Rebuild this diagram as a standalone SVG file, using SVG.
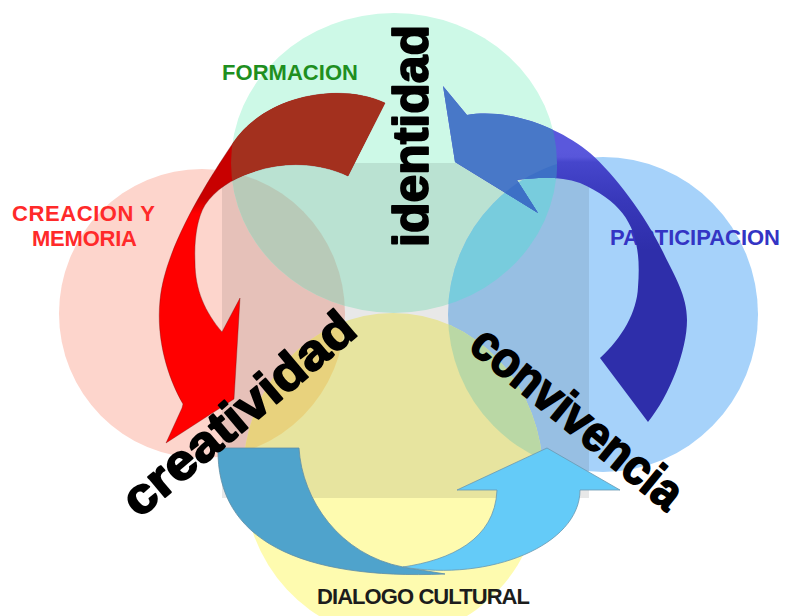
<svg xmlns="http://www.w3.org/2000/svg" xmlns:xlink="http://www.w3.org/1999/xlink" width="785" height="616" viewBox="0 0 785 616">
<style>
.lbl{font-family:"Liberation Sans",Arial,sans-serif;font-weight:bold;font-size:22px;lengthAdjust:spacingAndGlyphs}
.big{font-family:"Liberation Sans",Arial,sans-serif;font-weight:bold;font-size:50px;fill:#000;stroke:#000;stroke-width:1.8px;stroke-linejoin:round}
</style>
<defs>
<clipPath id="cPink"><ellipse cx="202" cy="313.5" rx="143" ry="144.5"/></clipPath>
<clipPath id="cGreen"><ellipse cx="394" cy="163" rx="163" ry="150"/></clipPath>
<clipPath id="cBlue"><ellipse cx="603" cy="314.5" rx="155" ry="157.5"/></clipPath>
<clipPath id="cYellow"><ellipse cx="393" cy="475" rx="150" ry="162"/></clipPath>
<linearGradient id="gRed" gradientUnits="userSpaceOnUse" x1="0" y1="140" x2="0" y2="230">
<stop offset="0" stop-color="#c80000"/><stop offset="0.65" stop-color="#c80000"/><stop offset="0.82" stop-color="#ff0000"/><stop offset="1" stop-color="#ff0000"/>
</linearGradient>
<linearGradient id="gBlue" gradientUnits="userSpaceOnUse" x1="0" y1="150" x2="0" y2="250">
<stop offset="0" stop-color="#5a58dc"/><stop offset="0.07" stop-color="#5856da"/><stop offset="0.12" stop-color="#4646cc"/><stop offset="0.5" stop-color="#3838ba"/><stop offset="1" stop-color="#2e2eaa"/>
</linearGradient>
<path id="pRed" d="M385,103 C340,82 265,95 233,143 C213,173 165,245 160,300 C156,340 168,378 183,404 L182,408 L166,443 L234,399 L240,298 L222,332 C205,312 195,290 195,262 C194,240 197,218 205,205 C215,190 232,179 250,173 C285,160 320,163 348,176 Z"/>
<path id="pBlueTop" d="M443,86 L467,115 C510,108 560,128 590,153 C615,175 645,215 663,252 C674,275 687,295 687,320 C687,350 670,395 648,422 L600,358 C622,338 637,312 638,287 C642,235 630,205 580,183 C560,176 538,177 517,180 L538,213 L455,162 Z"/>
</defs>
<rect x="0" y="0" width="785" height="616" fill="#fff"/>
<g id="node-creacion">
<ellipse cx="202" cy="313.5" rx="143" ry="144.5" fill="#fdd5cc"/>
</g>
<g id="node-formacion">
<ellipse cx="394" cy="163" rx="163" ry="150" fill="#cdf9e7"/>
</g>
<g id="node-participacion">
<ellipse cx="603" cy="314.5" rx="155" ry="157.5" fill="#a6d2fa"/>
</g>
<g id="node-dialogo">
<ellipse cx="393" cy="475" rx="150" ry="162" fill="#fefbaf"/>
</g>
<g id="overlaps">
<ellipse cx="202" cy="313.5" rx="143" ry="144.5" fill="#cbdfcb" clip-path="url(#cGreen)"/>
<ellipse cx="202" cy="313.5" rx="143" ry="144.5" fill="#ffe78a" clip-path="url(#cYellow)"/>
<ellipse cx="603" cy="314.5" rx="155" ry="157.5" fill="#84e1f3" clip-path="url(#cGreen)"/>
<ellipse cx="603" cy="314.5" rx="155" ry="157.5" fill="#cdeeb6" clip-path="url(#cYellow)"/>
</g>
<rect x="222" y="163" width="367" height="335" fill="#000" fill-opacity="0.09"/>
<g id="labels">
<text class="lbl" x="222" y="80" fill="#1f8f1f" textLength="136">FORMACION</text>
<text class="lbl" x="12" y="221" fill="#ff2a2a" textLength="143">CREACION Y</text>
<text class="lbl" x="32" y="246" fill="#ff2a2a" textLength="105">MEMORIA</text>
<text class="lbl" x="610" y="245" fill="#3434c4" textLength="170">PARTICIPACION</text>
<text class="lbl" x="317" y="604" fill="#1c1c1c" textLength="213">DIALOGO CULTURAL</text>
</g>
<g id="connectors">
<g id="arrow-red">
<use xlink:href="#pRed" fill="url(#gRed)" stroke="#6a1010" stroke-opacity="0.45" stroke-width="0.8"/>
<g clip-path="url(#cGreen)"><use xlink:href="#pRed" fill="#a3301e"/></g>
</g>
<g id="arrow-blue-top">
<use xlink:href="#pBlueTop" fill="url(#gBlue)"/>
<g clip-path="url(#cGreen)"><use xlink:href="#pBlueTop" fill="#4878c8"/>
<g clip-path="url(#cBlue)"><use xlink:href="#pBlueTop" fill="#3d70c6"/></g></g>
</g>
<path id="arrow-steel" d="M218,448 L299,448 C302,500 340,555 403,567 L445,574 C300,580 216,540 218,448 Z" fill="#4fa3cc" stroke="#5f8ea6" stroke-width="0.8"/>
<path id="arrow-sky" d="M403,567 C490,582 580,545 580,490 L620,490 L547,448 L457,490 L497,490 C495,540 450,560 403,567 Z" fill="#64cbf8" stroke="#6a98b0" stroke-width="0.8"/>
</g>
<g id="keywords">
<text class="big" transform="translate(428,247) rotate(-90)" textLength="222" lengthAdjust="spacingAndGlyphs">identidad</text>
<text class="big" transform="translate(139,519) rotate(-40)" textLength="288" lengthAdjust="spacingAndGlyphs">creatividad</text>
<text class="big" transform="translate(467,349) rotate(39.3)" textLength="258" lengthAdjust="spacingAndGlyphs">convivencia</text>
</g>
</svg>
